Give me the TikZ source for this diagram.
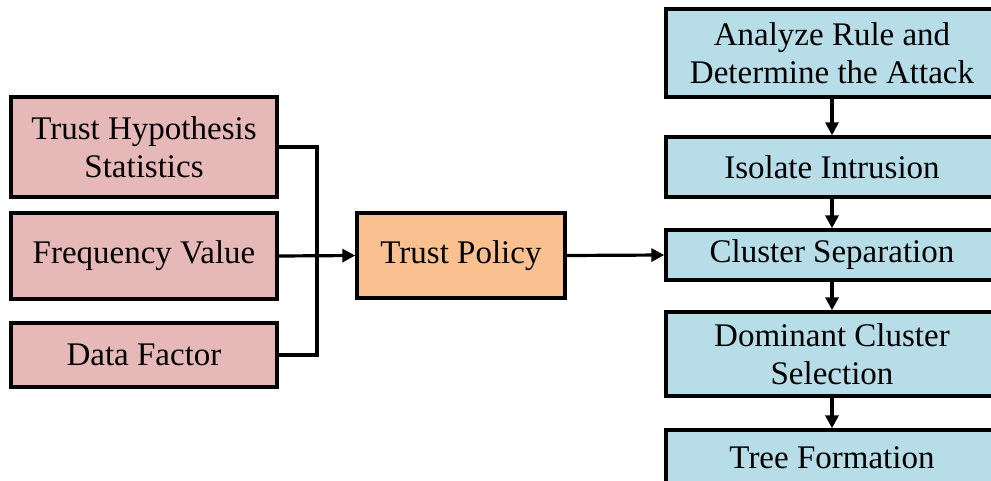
\documentclass[tikz,border=0pt]{standalone}
\usepackage{fontspec}
\setmainfont{Liberation Serif}
\usetikzlibrary{arrows.meta}
\definecolor{inpink}{HTML}{E6B9B8}
\definecolor{polorange}{HTML}{FAC090}
\definecolor{stepblue}{HTML}{B7DDE8}
\begin{document}
\begin{tikzpicture}[x=1pt,y=-1pt,
  box/.style={draw=black,line width=3.4pt,rectangle,align=center,inner sep=0pt,
    font=\fontsize{33}{38}\selectfont},
  inbox/.style={box,fill=inpink,minimum width=266pt},
  polbox/.style={box,fill=polorange,minimum width=208pt},
  stepbox/.style={box,fill=stepblue,minimum width=332pt},
  link/.style={line width=3.2pt},
  arr/.style={link,-{Triangle[length=13pt,width=13pt]}}]
\useasboundingbox (0,0) rectangle (991,480);
\fill[white] (0,0) rectangle (991,480);

% inputs
\node[inbox,minimum height=100pt] (hyp) at (144,147) {Trust Hypothesis\\Statistics};
\node[inbox,minimum height=86pt] (freq) at (144,256) {Frequency Value};
\node[inbox,minimum height=64pt] (data) at (144,355) {Data Factor};

% policy
\node[polbox,minimum height=85pt] (pol) at (461,255.5) {Trust Policy};

% processing chain
\node[stepbox,minimum height=88pt] (ana) at (832,53) {Analyze Rule and\\Determine the Attack};
\node[stepbox,minimum height=60pt] (iso) at (832,167) {Isolate Intrusion};
\node[stepbox,minimum height=50pt] (clu) at (832,255) {Cluster Separation};
\node[stepbox,minimum height=84pt] (dom) at (832,354) {Dominant Cluster\\Selection};
\node[stepbox,minimum height=56pt] (tree) at (832,458) {Tree Formation};

% joining bus
\coordinate (bus) at (317,256);
\draw[link] (hyp.east) -| (bus) |- (data.east);
\draw[arr] (freq.east) -- (pol.west);
\draw[arr] (pol.east) -- (clu.west);

\draw[arr] (ana.south) -- (iso.north);
\draw[arr] (iso.south) -- (clu.north);
\draw[arr] (clu.south) -- (dom.north);
\draw[arr] (dom.south) -- (tree.north);
\end{tikzpicture}
\end{document}
